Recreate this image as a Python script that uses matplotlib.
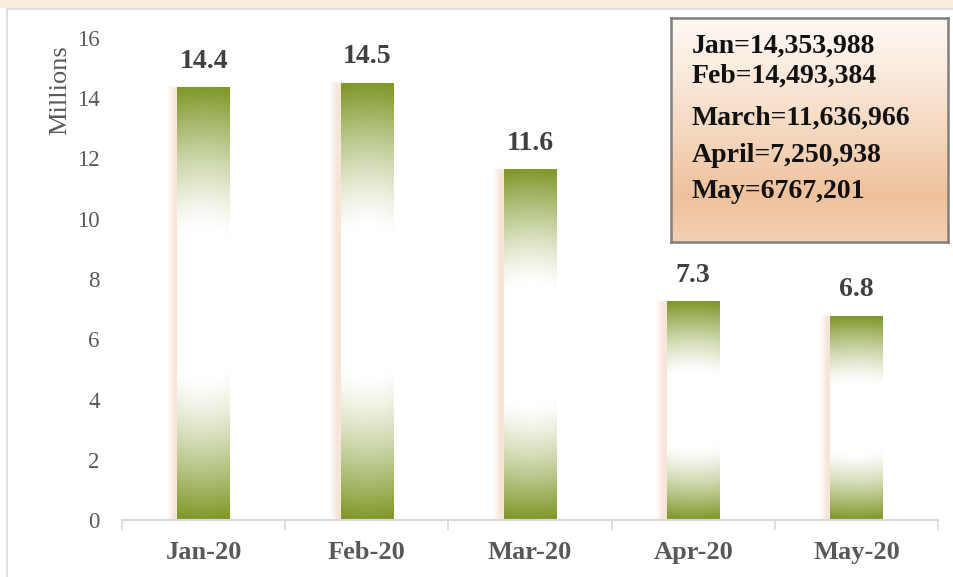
import numpy as np
import matplotlib.pyplot as plt
import matplotlib.colors as mcolors
from matplotlib.patches import Rectangle

months = ["Jan-20", "Feb-20", "Mar-20", "Apr-20", "May-20"]
values = [14.353988, 14.493384, 11.636966, 7.250938, 6.767201]
value_labels = ["14.4", "14.5", "11.6", "7.3", "6.8"]
box_lines = ["Jan=14,353,988", "Feb=14,493,384", "March=11,636,966",
             "April=7,250,938", "May=6767,201"]
yticks = [0, 2, 4, 6, 8, 10, 12, 14, 16]

plt.rcParams['font.family'] = ['Liberation Serif', 'DejaVu Serif']

GREEN = np.array(mcolors.to_rgb("#80992b"))
WHITE = np.array([1.0, 1.0, 1.0])


def bar_gradient(n=240, m=40):
    # green at top and bottom, white in the middle (path-like fill)
    v = np.linspace(0, 1, n)[:, None]
    u = np.linspace(0, 1, m)[None, :]
    t = np.sqrt(((v - 0.5) / 0.5) ** 2 + (0.18 * (u - 0.5) / 0.5) ** 2)
    f = np.clip((t - 0.35) / 0.65, 0, 1) ** 1.3
    img = WHITE * (1 - f[..., None]) + GREEN * f[..., None]
    return img


fig = plt.figure(figsize=(9.54, 5.77), dpi=100)
fig.patch.set_facecolor("white")

# cream band on top and light frame
fig.patches.append(Rectangle((0, 1 - 8 / 577), 1, 8 / 577, transform=fig.transFigure,
                             facecolor="#f6eedb", edgecolor="none", zorder=0))
fig.lines.append(plt.Line2D([7 / 954, 1], [1 - 9 / 577, 1 - 9 / 577], transform=fig.transFigure,
                            color="#dcdcdc", lw=1.2))
fig.lines.append(plt.Line2D([7 / 954, 7 / 954], [0, 1 - 9 / 577], transform=fig.transFigure,
                            color="#dcdcdc", lw=1.2))

ax = fig.add_axes([122 / 954, 1 - 520 / 577, (938 - 122) / 954, (520 - 38) / 577])
ax.set_facecolor("none")

x = np.arange(len(months))
w = 0.32
img = bar_gradient()
for xi, val, lab in zip(x, values, value_labels):
    # soft peach shadow on the left
    for k, a in enumerate([0.08, 0.10, 0.14, 0.18]):
        off = 0.065 - k * 0.012
        ax.add_patch(Rectangle((xi - w / 2 - off, 0), w, val + 0.05 - k * 0.02,
                               facecolor="#eec4a8", edgecolor="none", alpha=a, zorder=1))
    ax.imshow(img, extent=[xi - w / 2, xi + w / 2, 0, val], aspect="auto",
              origin="lower", zorder=2, interpolation="bilinear")
    ax.annotate(lab, (xi, val), xytext=(0, 19), textcoords="offset points",
                ha="center", va="center", fontsize=20, fontweight="bold", color="#404040")

ax.set_xlim(-0.5, len(months) - 0.5)
ax.set_ylim(0, 16)
ax.set_yticks(yticks)
ax.set_yticklabels([str(t) for t in yticks], fontsize=16.5, color="#595959")
ax.set_xticks(x)
ax.set_xticklabels(months, fontsize=19, fontweight="bold", color="#595959")
ax.set_xticks(np.arange(len(months) + 1) - 0.5, minor=True)
ax.tick_params(axis="y", length=0, pad=16)
ax.tick_params(axis="x", which="major", length=0, pad=15)
ax.tick_params(axis="x", which="minor", length=7, color="#d9d9d9", width=1.2)
for s in ["left", "right", "top"]:
    ax.spines[s].set_visible(False)
ax.spines["bottom"].set_color("#d9d9d9")
ax.spines["bottom"].set_linewidth(1.5)

fig.text(60 / 954, 1 - 90 / 577, "Millions", rotation=90, ha="center", va="center",
         fontsize=19, color="#595959")

# value box with peach gradient
bx = fig.add_axes([671 / 954, 1 - 242 / 577, 277 / 954, 224 / 577])
stops_pos = [0.0, 0.45, 0.80, 1.0]
stops_col = ["#fefaf6", "#f6dcc6", "#efc19c", "#f3d0b4"]
cm = mcolors.LinearSegmentedColormap.from_list("peach", list(zip(stops_pos, stops_col)))
grad = np.linspace(0, 1, 256)[:, None]
bx.imshow(grad, cmap=cm, extent=[0, 1, 1, 0], aspect="auto")
bx.set_xlim(0, 1)
bx.set_ylim(1, 0)
bx.set_xticks([])
bx.set_yticks([])
for s in bx.spines.values():
    s.set_color("#7f7f7f")
    s.set_linewidth(1.8)
line_y = [46, 76, 118, 155, 192]
for txt, yy in zip(box_lines, line_y):
    bx.text(21 / 277, (yy - 18) / 224, txt, ha="left", va="center",
            fontsize=20, fontweight="bold", color="#111111")

fig.savefig("out.png", dpi=100)
